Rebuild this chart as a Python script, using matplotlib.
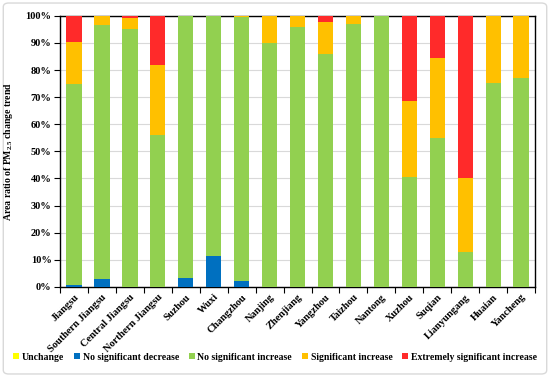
import matplotlib
matplotlib.use("Agg")
import matplotlib.pyplot as plt
import numpy as np
from matplotlib.patches import Patch, FancyBboxPatch
from matplotlib.ticker import FuncFormatter, FixedLocator

regions = ["Jiangsu", "Southern Jiangsu", "Central Jiangsu", "Northern Jiangsu",
           "Suzhou", "Wuxi", "Changzhou", "Nanjing", "Zhenjiang", "Yangzhou",
           "Taizhou", "Nantong", "Xuzhou", "Suqian", "Lianyungang", "Huaian", "Yancheng"]

# percent of area in each trend class
unchange = [0, 0, 0, 0, 0, 0, 0, 0, 0, 0, 0, 0, 0, 0, 0, 0, 0]
no_sig_dec = [0.8, 3.0, 0, 0, 3.4, 11.4, 2.2, 0, 0, 0, 0, 0, 0, 0, 0, 0, 0]
no_sig_inc = [74.2, 93.8, 95.0, 56.0, 96.6, 88.6, 97.5, 90.0, 95.8, 85.9, 96.9, 100.0,
              40.5, 54.9, 12.9, 75.3, 77.1]
sig_inc = [15.3, 3.2, 4.3, 26.0, 0, 0, 0.3, 10.0, 4.2, 11.9, 3.1, 0,
           27.9, 29.7, 27.3, 24.7, 22.9]
ext_sig_inc = [9.7, 0, 0.7, 18.0, 0, 0, 0, 0, 0, 2.2, 0, 0,
               31.6, 15.4, 59.8, 0, 0]

series = [("Unchange", unchange, "#FFFF00"),
          ("No significant decrease", no_sig_dec, "#0070C0"),
          ("No significant increase", no_sig_inc, "#92D050"),
          ("Significant increase", sig_inc, "#FFC000"),
          ("Extremely significant increase", ext_sig_inc, "#FF2A2A")]

plt.rcParams["font.family"] = ["Liberation Serif", "DejaVu Serif"]
plt.rcParams["font.weight"] = "bold"
plt.rcParams["mathtext.fontset"] = "custom"
plt.rcParams["mathtext.rm"] = "Liberation Serif:bold"
plt.rcParams["mathtext.bf"] = "Liberation Serif:bold"
plt.rcParams["mathtext.default"] = "rm"

fig = plt.figure(figsize=(5.5, 3.77), dpi=100)
border = FancyBboxPatch((0.006, 0.008), 0.988, 0.984, boxstyle="round,pad=0,rounding_size=0.01",
                        transform=fig.transFigure, fc="white", ec="#d9d9d9", lw=1.0, zorder=-10)
fig.patches.append(border)
ax = fig.add_axes([0.109, 0.239, 0.864, 0.719])

x = np.arange(len(regions))
bottom = np.zeros(len(regions))
for name, vals, col in series:
    vals = np.asarray(vals, dtype=float)
    ax.bar(x, vals, 0.55, bottom=bottom, color=col, label=name, zorder=3)
    bottom += vals

ax.set_xlim(-0.5, len(regions) - 0.5)
ax.set_ylim(0, 100)
ax.set_yticks(np.arange(0, 101, 10))
ax.yaxis.set_major_formatter(FuncFormatter(lambda v, p: f"{v:.0f}%"))
ax.grid(axis="y", color="#d9d9d9", lw=0.8, zorder=0)

ax.xaxis.set_major_locator(FixedLocator(x))
ax.set_xticklabels(regions, rotation=45, ha="right", rotation_mode="anchor", fontsize=7.5, fontweight="bold")
ax.tick_params(axis="x", which="major", length=0, pad=4)
ax.xaxis.set_minor_locator(FixedLocator(np.arange(-0.5, len(regions), 1.0)))
ax.tick_params(axis="x", which="minor", length=4, width=0.8, direction="out")
ax.tick_params(axis="y", length=4, width=0.8, direction="out", labelsize=7.5, pad=2)
for lab in ax.get_yticklabels():
    lab.set_fontweight("bold")
for s in ax.spines.values():
    s.set_linewidth(1.0)
    s.set_color("black")

ax.set_ylabel("Area ratio of PM$_{2.5}$ change trend", fontsize=7, fontweight="bold", labelpad=8)

handles = [Patch(facecolor=c, edgecolor="none", label=n) for n, _, c in series]
fig.legend(handles=handles, loc="center", bbox_to_anchor=(0.5, 0.053), ncol=5, frameon=False,
           handlelength=0.6, handleheight=0.6, handletextpad=0.3, columnspacing=1.0,
           prop={"weight": "bold", "size": 7})

fig.savefig("out.png", dpi=100)
